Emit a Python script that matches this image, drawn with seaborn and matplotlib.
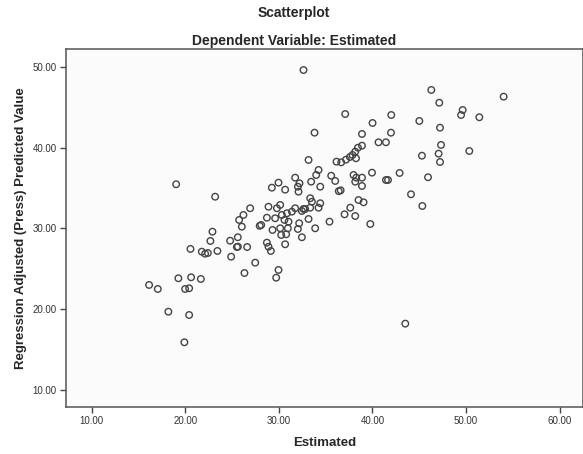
import matplotlib
matplotlib.use('Agg')
import matplotlib.pyplot as plt
import seaborn as sns
import pandas as pd

# Estimated (x) vs Regression Adjusted (Press) Predicted Value (y)
estimated = [
    19.02, 23.19, 26.93,
    32.63, 37.09, 40.01, 33.81, 38.88, 40.65, 38.88, 38.45, 38.16, 37.87, 37.59,
    37.17, 36.66, 36.16, 38.24, 33.17, 34.24, 39.95, 33.99, 33.45, 34.42, 35.59,
    36.02, 36.40, 36.60, 37.98, 38.27, 38.88, 38.16, 38.88, 38.51, 39.05, 37.63,
    31.74, 29.96, 29.25, 30.67, 32.20, 32.03, 32.10, 33.35, 33.53, 34.42, 28.89,
    30.14, 29.79, 31.74, 32.63,
    46.29, 54.02, 47.14, 49.64, 49.47, 51.42, 42.01, 45.01, 47.22, 41.98, 41.44,
    47.33, 50.35, 47.07, 45.29, 47.22, 42.90, 41.44, 41.66, 45.94, 44.12, 45.33,
    43.51,
    26.21, 25.75, 26.04, 22.90, 22.68, 24.79, 25.61, 20.55, 21.76, 22.12, 22.41,
    23.43, 25.51, 25.62, 26.61, 24.90, 27.47, 26.32, 19.26, 20.62, 21.66, 16.13,
    17.06, 19.98, 20.41, 18.19, 20.41, 19.90, 28.11, 27.95,
    28.72, 29.60, 30.32, 30.86, 31.39, 32.46, 32.81, 33.35, 34.24, 29.32, 30.14,
    30.25, 30.78, 30.96, 31.03, 30.60, 32.03, 32.17, 33.17, 32.46, 33.88, 35.41,
    37.02, 38.16, 39.77, 28.72, 28.89, 29.14, 30.67, 29.96, 29.71,
]
predicted = [
    35.45, 33.91, 32.48,
    49.60, 44.15, 43.04, 41.84, 41.68, 40.65, 40.23, 39.98, 39.49, 39.08, 38.83,
    38.50, 38.17, 38.25, 38.67, 38.46, 37.22, 36.89, 36.60, 35.77, 35.15, 36.51,
    35.86, 34.60, 34.70, 36.60, 36.27, 36.27, 35.77, 35.24, 33.50, 33.22, 32.55,
    36.27, 35.65, 35.03, 34.78, 35.57, 35.15, 34.53, 33.72, 33.29, 33.10, 32.67,
    32.89, 32.48, 32.48, 32.39,
    47.13, 46.30, 45.55, 44.65, 44.03, 43.75, 44.03, 43.29, 42.46, 41.84, 40.65,
    40.32, 39.57, 39.24, 38.99, 38.21, 36.85, 35.98, 35.98, 36.32, 34.21, 32.76,
    18.19,
    31.65, 31.03, 30.20, 29.58, 28.43, 28.46, 28.89, 27.44, 27.10, 26.85, 26.94,
    27.19, 27.68, 27.72, 27.68, 26.48, 25.74, 24.46, 23.81, 23.93, 23.72, 22.98,
    22.48, 22.48, 22.57, 19.67, 19.26, 15.88, 30.41, 30.30,
    31.31, 31.24, 31.65, 31.86, 32.06, 32.14, 32.39, 32.55, 32.55, 29.79, 30.00,
    29.17, 29.26, 30.00, 30.82, 31.03, 29.91, 30.62, 31.15, 28.89, 30.00, 30.82,
    31.73, 31.52, 30.53, 28.22, 27.72, 27.19, 28.02, 24.84, 23.88,
]
x_ticks = [10, 20, 30, 40, 50, 60]
y_ticks = [10, 20, 30, 40, 50]

df = pd.DataFrame({'Estimated': estimated, 'Predicted': predicted})

sns.set_style('ticks')
plt.rcParams['font.family'] = ['Liberation Sans', 'DejaVu Sans']

fig = plt.figure(figsize=(5.83, 4.54), dpi=100)
ax = fig.add_axes([0.1124, 0.1029, 0.8876, 0.7891])
ax.set_facecolor('#fbfbfb')

# hollow circles like the SPSS output
sns.scatterplot(data=df, x='Estimated', y='Predicted', ax=ax, marker='o', s=22,
                facecolor='none', edgecolor='#444444', linewidth=1.0)

ax.set_xlim(7.2, 62.5)
ax.set_ylim(7.83, 52.2)
ax.set_xticks(x_ticks)
ax.set_xticklabels([f'{v:.2f}' for v in x_ticks])
ax.set_yticks(y_ticks)
ax.set_yticklabels([f'{v:.2f}' for v in y_ticks])
ax.tick_params(axis='both', labelsize=7, length=4.5, width=1, color='#444444',
               labelcolor='#333333', pad=2)

for side in ['left', 'bottom', 'top', 'right']:
    ax.spines[side].set_visible(True)
    ax.spines[side].set_color('#555555')
    ax.spines[side].set_linewidth(1.1)

ax.set_xlabel('Estimated', fontsize=9.5, fontweight='bold', labelpad=8)
ax.set_ylabel('Regression Adjusted (Press) Predicted Value', fontsize=9.5,
              fontweight='bold', labelpad=4)

fig.text(0.504, 0.972, 'Scatterplot', ha='center', va='center',
         fontsize=10, fontweight='bold')
fig.text(0.504, 0.909, 'Dependent Variable: Estimated', ha='center', va='center',
         fontsize=10, fontweight='bold')

fig.savefig('out.png', dpi=100, facecolor='white')
